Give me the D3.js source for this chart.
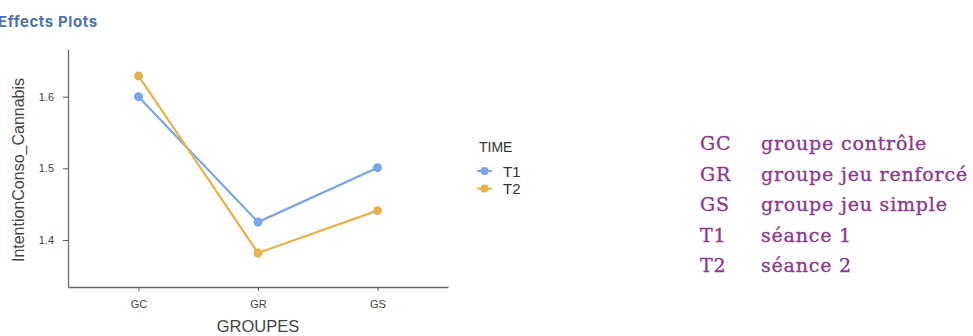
<!DOCTYPE html>
<html>
<head>
<meta charset="utf-8">
<script src="https://cdn.jsdelivr.net/npm/d3@7"></script>
<style>
  body { margin: 0; background: #fff; }
  svg { display: block; }
</style>
</head>
<body>
<svg></svg>
<script>
const groups = ['GC', 'GR', 'GS'];
const times = ['T1', 'T2'];
const t1Values = [1.600, 1.425, 1.501];
const t2Values = [1.629, 1.382, 1.441];
const yTicks = [1.4, 1.5, 1.6];
const glossCodes = ['GC', 'GR', 'GS', 'T1', 'T2'];
const glossLabels = ['groupe contrôle', 'groupe jeu renforcé', 'groupe jeu simple', 'séance 1', 'séance 2'];

const colors = { T1: '#78a5e6', T2: '#e5b24e' };
const series = [
  { name: 'T1', values: t1Values },
  { name: 'T2', values: t2Values }
];

const svg = d3.select('svg').attr('width', 973).attr('height', 336);

// title (cut at the left edge, like the source screenshot)
svg.append('text')
  .attr('x', -2).attr('y', 27)
  .attr('font-family', 'Inter, "Open Sans", sans-serif')
  .attr('font-weight', 700)
  .attr('font-size', 15)
  .attr('letter-spacing', 0.6)
  .attr('fill', '#4d74aa')
  .text('Effects Plots');

// plot area
const plotLeft = 68, plotRight = 448, plotTop = 49, plotBottom = 287;

const x = d3.scalePoint()
  .domain(groups)
  .range([plotLeft, plotRight])
  .padding(0.59);

const y = d3.scaleLinear()
  .domain([1.3345, 1.6665])
  .range([plotBottom, plotTop]);

const xAxisG = svg.append('g')
  .attr('transform', `translate(0, ${plotBottom})`)
  .call(d3.axisBottom(x).tickSizeOuter(0).tickSizeInner(4).tickPadding(9));

const yAxisG = svg.append('g')
  .attr('transform', `translate(${plotLeft}, 0)`)
  .call(d3.axisLeft(y).tickValues(yTicks).tickFormat(d3.format('.1f')).tickSizeOuter(0).tickSizeInner(5).tickPadding(9));

[xAxisG, yAxisG].forEach(g => {
  g.select('.domain').attr('stroke', '#6b6b6b').attr('stroke-width', 1.3);
  g.selectAll('.tick line').attr('stroke', '#555');
  g.selectAll('.tick text')
    .attr('fill', '#444')
    .attr('font-family', '"Liberation Sans", Arial, sans-serif')
    .attr('font-size', 11);
});

// axis titles
svg.append('text')
  .attr('x', x('GR')).attr('y', 332)
  .attr('text-anchor', 'middle')
  .attr('font-family', '"Liberation Sans", Arial, sans-serif')
  .attr('font-size', 16.5)
  .attr('fill', '#444')
  .text('GROUPES');

svg.append('text')
  .attr('transform', `translate(24, 170) rotate(-90)`)
  .attr('text-anchor', 'middle')
  .attr('font-family', '"Liberation Sans", Arial, sans-serif')
  .attr('font-size', 16)
  .attr('fill', '#444')
  .text('IntentionConso_Cannabis');

// lines and points
const line = d3.line()
  .x((d, i) => x(groups[i]))
  .y(d => y(d));

const s = svg.append('g').selectAll('g')
  .data(series)
  .join('g');

s.append('path')
  .attr('d', d => line(d.values))
  .attr('fill', 'none')
  .attr('stroke', d => colors[d.name])
  .attr('stroke-width', 2.2);

s.selectAll('circle')
  .data(d => d.values.map((v, i) => ({ v, i, name: d.name })))
  .join('circle')
  .attr('cx', d => x(groups[d.i]))
  .attr('cy', d => y(d.v))
  .attr('r', 4.5)
  .attr('fill', d => colors[d.name]);

// legend
const legend = svg.append('g').attr('transform', 'translate(477, 0)');
legend.append('text')
  .attr('x', 2).attr('y', 152)
  .attr('font-family', '"Liberation Sans", Arial, sans-serif')
  .attr('font-size', 14)
  .attr('fill', '#333')
  .text('TIME');

const items = legend.selectAll('g.item')
  .data(times)
  .join('g')
  .attr('class', 'item')
  .attr('transform', (d, i) => `translate(0, ${171 + i * 17.5})`);

items.append('line')
  .attr('x1', 0).attr('x2', 15)
  .attr('stroke', d => colors[d])
  .attr('stroke-width', 2);
items.append('circle')
  .attr('cx', 7.5).attr('r', 4)
  .attr('fill', d => colors[d]);
items.append('text')
  .attr('x', 26).attr('y', 5.5)
  .attr('font-family', '"Liberation Sans", Arial, sans-serif')
  .attr('font-size', 15)
  .attr('fill', '#333')
  .text(d => d);

// glossary on the right
const gloss = svg.append('g')
  .attr('font-family', '"DejaVu Serif", serif')
  .attr('font-size', 19)
  .attr('letter-spacing', 0.8)
  .attr('fill', '#8b3b8d')
  .attr('stroke', '#8b3b8d')
  .attr('stroke-width', 0.35);

gloss.selectAll('text.code')
  .data(glossCodes)
  .join('text')
  .attr('class', 'code')
  .attr('x', 700)
  .attr('y', (d, i) => 150 + i * 30.5)
  .text(d => d);

gloss.selectAll('text.label')
  .data(glossLabels)
  .join('text')
  .attr('class', 'label')
  .attr('x', 761)
  .attr('y', (d, i) => 150 + i * 30.5)
  .text(d => d);
</script>
</body>
</html>
